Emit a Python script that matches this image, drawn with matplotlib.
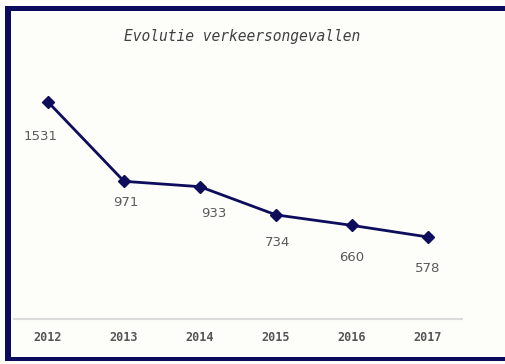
import matplotlib
matplotlib.use("Agg")
import matplotlib.pyplot as plt
from matplotlib.patches import Rectangle

years = ["2012", "2013", "2014", "2015", "2016", "2017"]
accidents = [1531, 971, 933, 734, 660, 578]
title = "Evolutie verkeersongevallen"

# label offsets in points (style/layout only)
label_dx = [-5, 1, 10, 1, 0, 0]
label_dy = [-25, -15, -19, -20, -23, -23]

W, H = 506, 364
dpi = 100
fig = plt.figure(figsize=(W / dpi, H / dpi), dpi=dpi)
fig.patch.set_facecolor("#fdfdf9")

def px(x0, y0, x1, y1):
    return (x0 / W, 1 - y1 / H, (x1 - x0) / W, (y1 - y0) / H)

navy = "#0b0b5e"
# borders
for (x0, y0, x1, y1) in [(5, 6, W, 11), (5, 6, 11, 360), (5, 357, W, 361)]:
    l, b, w, h = px(x0, y0, x1, y1)
    fig.patches.append(Rectangle((l, b), w, h, transform=fig.transFigure,
                                 facecolor=navy, edgecolor="none", zorder=10))

ax_l, ax_r, ax_t, ax_b = 10, 466, 35.5, 318.9
ax = fig.add_axes([ax_l / W, 1 - ax_b / H, (ax_r - ax_l) / W, (ax_b - ax_t) / H])
ax.set_facecolor("none")

x = list(range(len(years)))
ax.plot(x, accidents, color="#0d0d5c", lw=2.0, marker="D", markersize=6,
        markeredgecolor="#0d0d5c", markerfacecolor="#0d0d5c", zorder=3)

for i, v in enumerate(accidents):
    ax.annotate(str(v), (i, v), xytext=(label_dx[i], label_dy[i]),
                textcoords="offset points", ha="center", va="center",
                fontsize=9.5, color="#5a5a5a", family="DejaVu Sans")

ax.set_xlim(-0.5, len(years) - 0.5)
ax.set_ylim(0, 2000)
ax.set_xticks(x)
ax.set_xticklabels(years, fontsize=8.5, color="#555555", fontweight="bold",
                   family="DejaVu Sans Mono")
ax.tick_params(axis="x", length=0, pad=9)
ax.set_yticks([])
for s in ["left", "right", "top"]:
    ax.spines[s].set_visible(False)
ax.spines["bottom"].set_color("#dcdcdc")
ax.spines["bottom"].set_linewidth(1.5)
ax.spines["bottom"].set_bounds(-0.45, 5.45)

fig.text(242 / W, 1 - 37 / H, title, ha="center", va="center",
         fontsize=10.5, style="italic", color="#404040", family="DejaVu Sans Mono")

fig.savefig("out.png", dpi=dpi, facecolor=fig.get_facecolor())
